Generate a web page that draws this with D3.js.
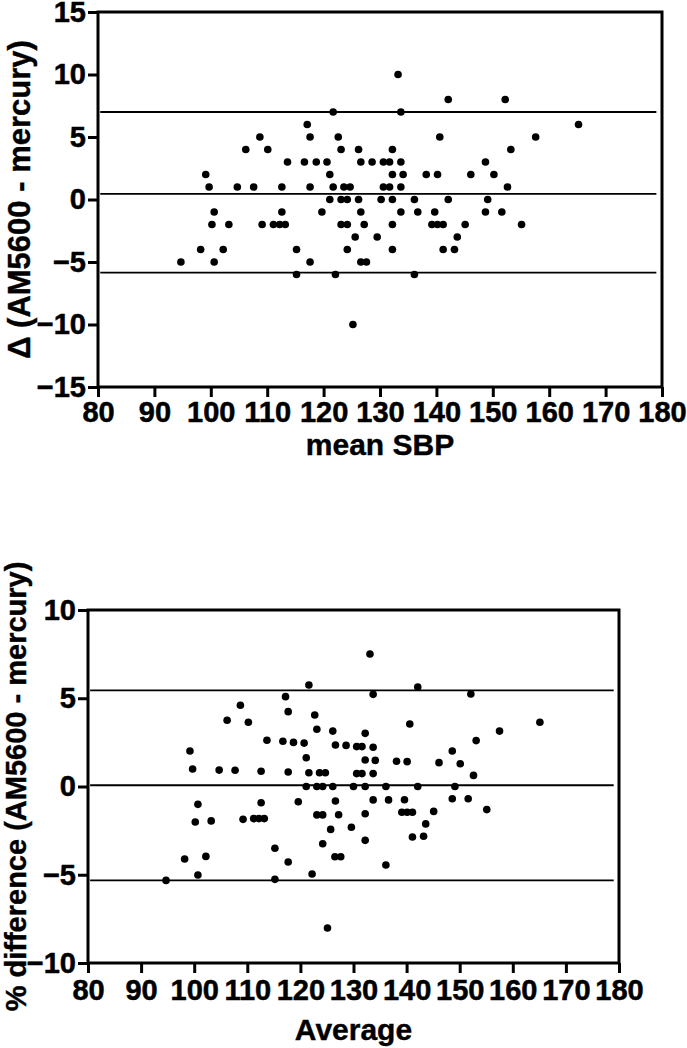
<!DOCTYPE html>
<html>
<head>
<meta charset="utf-8">
<script src="https://cdn.jsdelivr.net/npm/d3@7"></script>
<style>
  body { margin: 0; background: #fff; }
  svg text { font-family: "Liberation Sans", Arial, sans-serif; font-weight: bold; fill: #000; }
  svg .tick text { font-family: "Liberation Sans Narrow", "Arial Narrow", "Liberation Sans", sans-serif; }
</style>
</head>
<body>
<script>
// ---- data ----
var xTicks = [80, 90, 100, 110, 120, 130, 140, 150, 160, 170, 180];
var deltaTicks = [15, 10, 5, 0, -5, -10, -15];
var pctTicks = [10, 5, 0, -5, -10];

// top panel: mean SBP vs difference (mmHg)
var meanSBP = [
  121.7, 117.1, 108.7, 117.6, 122.6, 106.2, 110.1, 123.1, 126.2,
  113.6, 116.6, 118.7, 120.6, 126.6, 128.6, 99.1, 121.1,
  99.7, 104.7, 107.6, 112.6, 117.6, 121.7, 123.6, 124.7,
  121.1, 123.1, 124.2, 126.2, 130.2, 100.6, 112.6, 119.7, 126.6,
  100.2, 103.2, 109.1, 111.1, 112.2, 113.2, 123.1, 124.2, 127.2,
  125.6, 129.5, 98.2, 102.2, 115.2, 124.2,
  94.7, 100.6, 117.6, 126.6, 127.6, 115.2, 122.1, 125.2,
  133.2, 142.1, 152.2, 133.7, 165.2, 140.6, 157.6, 132.2, 153.2,
  130.6, 131.7, 133.7, 148.7, 132.2, 134.1, 138.2, 140.2, 146.1, 150.2,
  130.6, 131.7, 133.7, 152.6, 132.2, 136.1, 142.1, 149.1,
  133.7, 136.7, 139.7, 148.7, 151.6,
  132.2, 139.2, 140.2, 141.2, 145.1, 155.1, 143.7, 132.2, 141.2, 143.2, 136.1
];
var deltaSBP = [
  7, 6, 5, 5, 5, 4, 4, 4, 4,
  3, 3, 3, 3, 3, 3, 2, 2,
  1, 1, 1, 1, 1, 1, 1, 1,
  0, 0, 0, 0, 0, -1, -1, -1, -1,
  -2, -2, -2, -2, -2, -2, -2, -2, -2,
  -3, -3, -4, -4, -4, -4,
  -5, -5, -5, -5, -5, -6, -6, -10,
  10, 8, 8, 7, 6, 5, 5, 4, 4,
  3, 3, 3, 3, 2, 2, 2, 2, 2, 2,
  1, 1, 1, 1, 0, 0, 0, 0,
  -1, -1, -1, -1, -1,
  -2, -2, -2, -2, -2, -2, -3, -4, -4, -4, -6
];
var deltaLimits = [7.0, 0.45, -5.85];

// bottom panel: average vs % difference
var average = [
  121.6, 117.2, 117.7, 108.7, 122.7, 106.2, 110.2, 123.1, 126.1,
  113.7, 116.7, 118.7, 120.7, 126.6, 128.6, 99.2, 121.1,
  99.7, 104.7, 107.7, 112.6, 117.7, 121.6, 123.6, 124.7,
  121.1, 123.1, 124.2, 126.1, 130.0, 100.7, 112.6, 119.6, 126.6,
  100.2, 103.2, 109.2, 111.2, 112.2, 113.2, 123.1, 124.2, 127.2,
  125.7, 129.6, 98.2, 102.2, 115.2, 124.2,
  94.7, 100.7, 117.7, 126.5, 127.6, 115.2, 122.2, 125.1,
  133.1, 142.1, 133.7, 152.1, 165.1, 140.6, 157.5, 153.1, 132.2,
  130.6, 131.6, 133.7, 148.6, 132.2, 134.1, 138.1, 140.1, 146.1, 150.1,
  130.6, 131.6, 133.7, 152.6, 132.2, 136.1, 142.1, 149.1,
  133.7, 136.6, 139.6, 148.6, 151.6,
  132.2, 139.1, 140.1, 141.1, 145.1, 155.1, 143.6, 132.2, 141.1, 143.2, 136.1
];
var pctDiff = [
  5.75, 5.09, 4.24, 4.60, 4.05, 3.75, 3.64, 3.24, 3.14,
  2.62, 2.56, 2.50, 2.46, 2.35, 2.33, 2.01, 1.63,
  0.99, 0.93, 0.92, 0.86, 0.82, 0.78, 0.78, 0.78,
  0, 0, 0, 0, 0, -1.01, -0.92, -0.86, -0.82,
  -2.01, -1.95, -1.86, -1.82, -1.82, -1.82, -1.61, -1.61, -1.60,
  -2.43, -2.31, -4.11, -3.96, -3.50, -3.24,
  -5.32, -5.01, -4.28, -3.98, -3.98, -5.26, -4.96, -8.02,
  7.51, 5.64, 5.22, 5.24, 3.64, 3.54, 3.14, 2.60, 3.01,
  2.26, 2.26, 2.22, 2.01, 1.50, 1.48, 1.43, 1.41, 1.35, 1.29,
  0.73, 0.73, 0.73, 0.63, 0, 0, 0, 0,
  -0.76, -0.76, -0.75, -0.69, -0.69,
  -1.54, -1.46, -1.46, -1.46, -1.41, -1.31, -2.12, -3.05, -2.86, -2.82, -4.45
];
var pctLimits = [5.45, 0.07, -5.32];

var svgWidth = 687;
var svgHeight = 1048;

var svg = d3.select("body")
  .append("svg")
  .attr("width", svgWidth)
  .attr("height", svgHeight);

svg.append("rect")
  .attr("width", svgWidth)
  .attr("height", svgHeight)
  .attr("fill", "#fff");

function drawPanel(p) {
  var x = d3.scaleLinear().domain([80, 180]).range([p.left, p.right]);
  var y = d3.scaleLinear().domain(p.yDomain).range([p.bottom, p.top]);

  var g = svg.append("g");

  // limits of agreement + mean difference
  g.selectAll("line.limit")
    .data(p.limits)
    .enter()
    .append("line")
    .attr("class", "limit")
    .attr("x1", x(80.4))
    .attr("x2", x(179))
    .attr("y1", d => y(d))
    .attr("y2", d => y(d))
    .attr("stroke", "#000")
    .attr("stroke-width", 1.8);

  g.selectAll("circle")
    .data(p.xs)
    .enter()
    .append("circle")
    .attr("cx", d => x(d))
    .attr("cy", (d, i) => y(p.ys[i]))
    .attr("r", 3.8)
    .attr("fill", "#000");

  // frame
  g.append("rect")
    .attr("x", p.left)
    .attr("y", p.top)
    .attr("width", p.right - p.left)
    .attr("height", p.bottom - p.top)
    .attr("fill", "none")
    .attr("stroke", "#000")
    .attr("stroke-width", 3);

  var xAxis = d3.axisBottom(x).tickValues(xTicks).tickSize(10).tickSizeOuter(0).tickPadding(p.xPad);
  var yAxis = d3.axisLeft(y).tickValues(p.yTicks).tickSize(10).tickSizeOuter(0).tickPadding(2);

  var gx = g.append("g")
    .attr("transform", `translate(0,${p.bottom})`)
    .call(xAxis);
  var gy = g.append("g")
    .attr("transform", `translate(${p.left},0)`)
    .call(yAxis);

  [gx, gy].forEach(a => {
    a.attr("font-family", null);
    a.select(".domain").remove();
    a.selectAll(".tick line").attr("stroke", "#000").attr("stroke-width", 3);
    a.selectAll(".tick text")
      .attr("font-size", 29)
      .attr("fill", "#000")
      .attr("stroke", "#000")
      .attr("stroke-width", 0.5);
  });

  g.append("text")
    .attr("x", (p.left + p.right) / 2)
    .attr("y", p.xTitleY)
    .attr("text-anchor", "middle")
    .attr("font-size", 30)
    .attr("stroke", "#000")
    .attr("stroke-width", 0.4)
    .text(p.xTitle);

  g.append("text")
    .attr("transform", `translate(${p.yTitleX},${(p.top + p.bottom) / 2}) rotate(-90)`)
    .attr("text-anchor", "middle")
    .attr("font-size", p.yTitleSize)
    .attr("stroke", "#000")
    .attr("stroke-width", 0.4)
    .text(p.yTitle);
}

drawPanel({
  left: 98, right: 662, top: 12, bottom: 387,
  yDomain: [-15, 15], yTicks: deltaTicks,
  xs: meanSBP, ys: deltaSBP, limits: deltaLimits,
  xPad: 4, xTitle: "mean SBP", xTitleY: 455,
  yTitle: "\u0394 (AM5600 - mercury)", yTitleX: 30, yTitleSize: 31
});

drawPanel({
  left: 88, right: 619, top: 610, bottom: 963,
  yDomain: [-10, 10], yTicks: pctTicks,
  xs: average, ys: pctDiff, limits: pctLimits,
  xPad: 6, xTitle: "Average", xTitleY: 1040,
  yTitle: "% difference (AM5600 - mercury)", yTitleX: 26, yTitleSize: 29
});
</script>
</body>
</html>
